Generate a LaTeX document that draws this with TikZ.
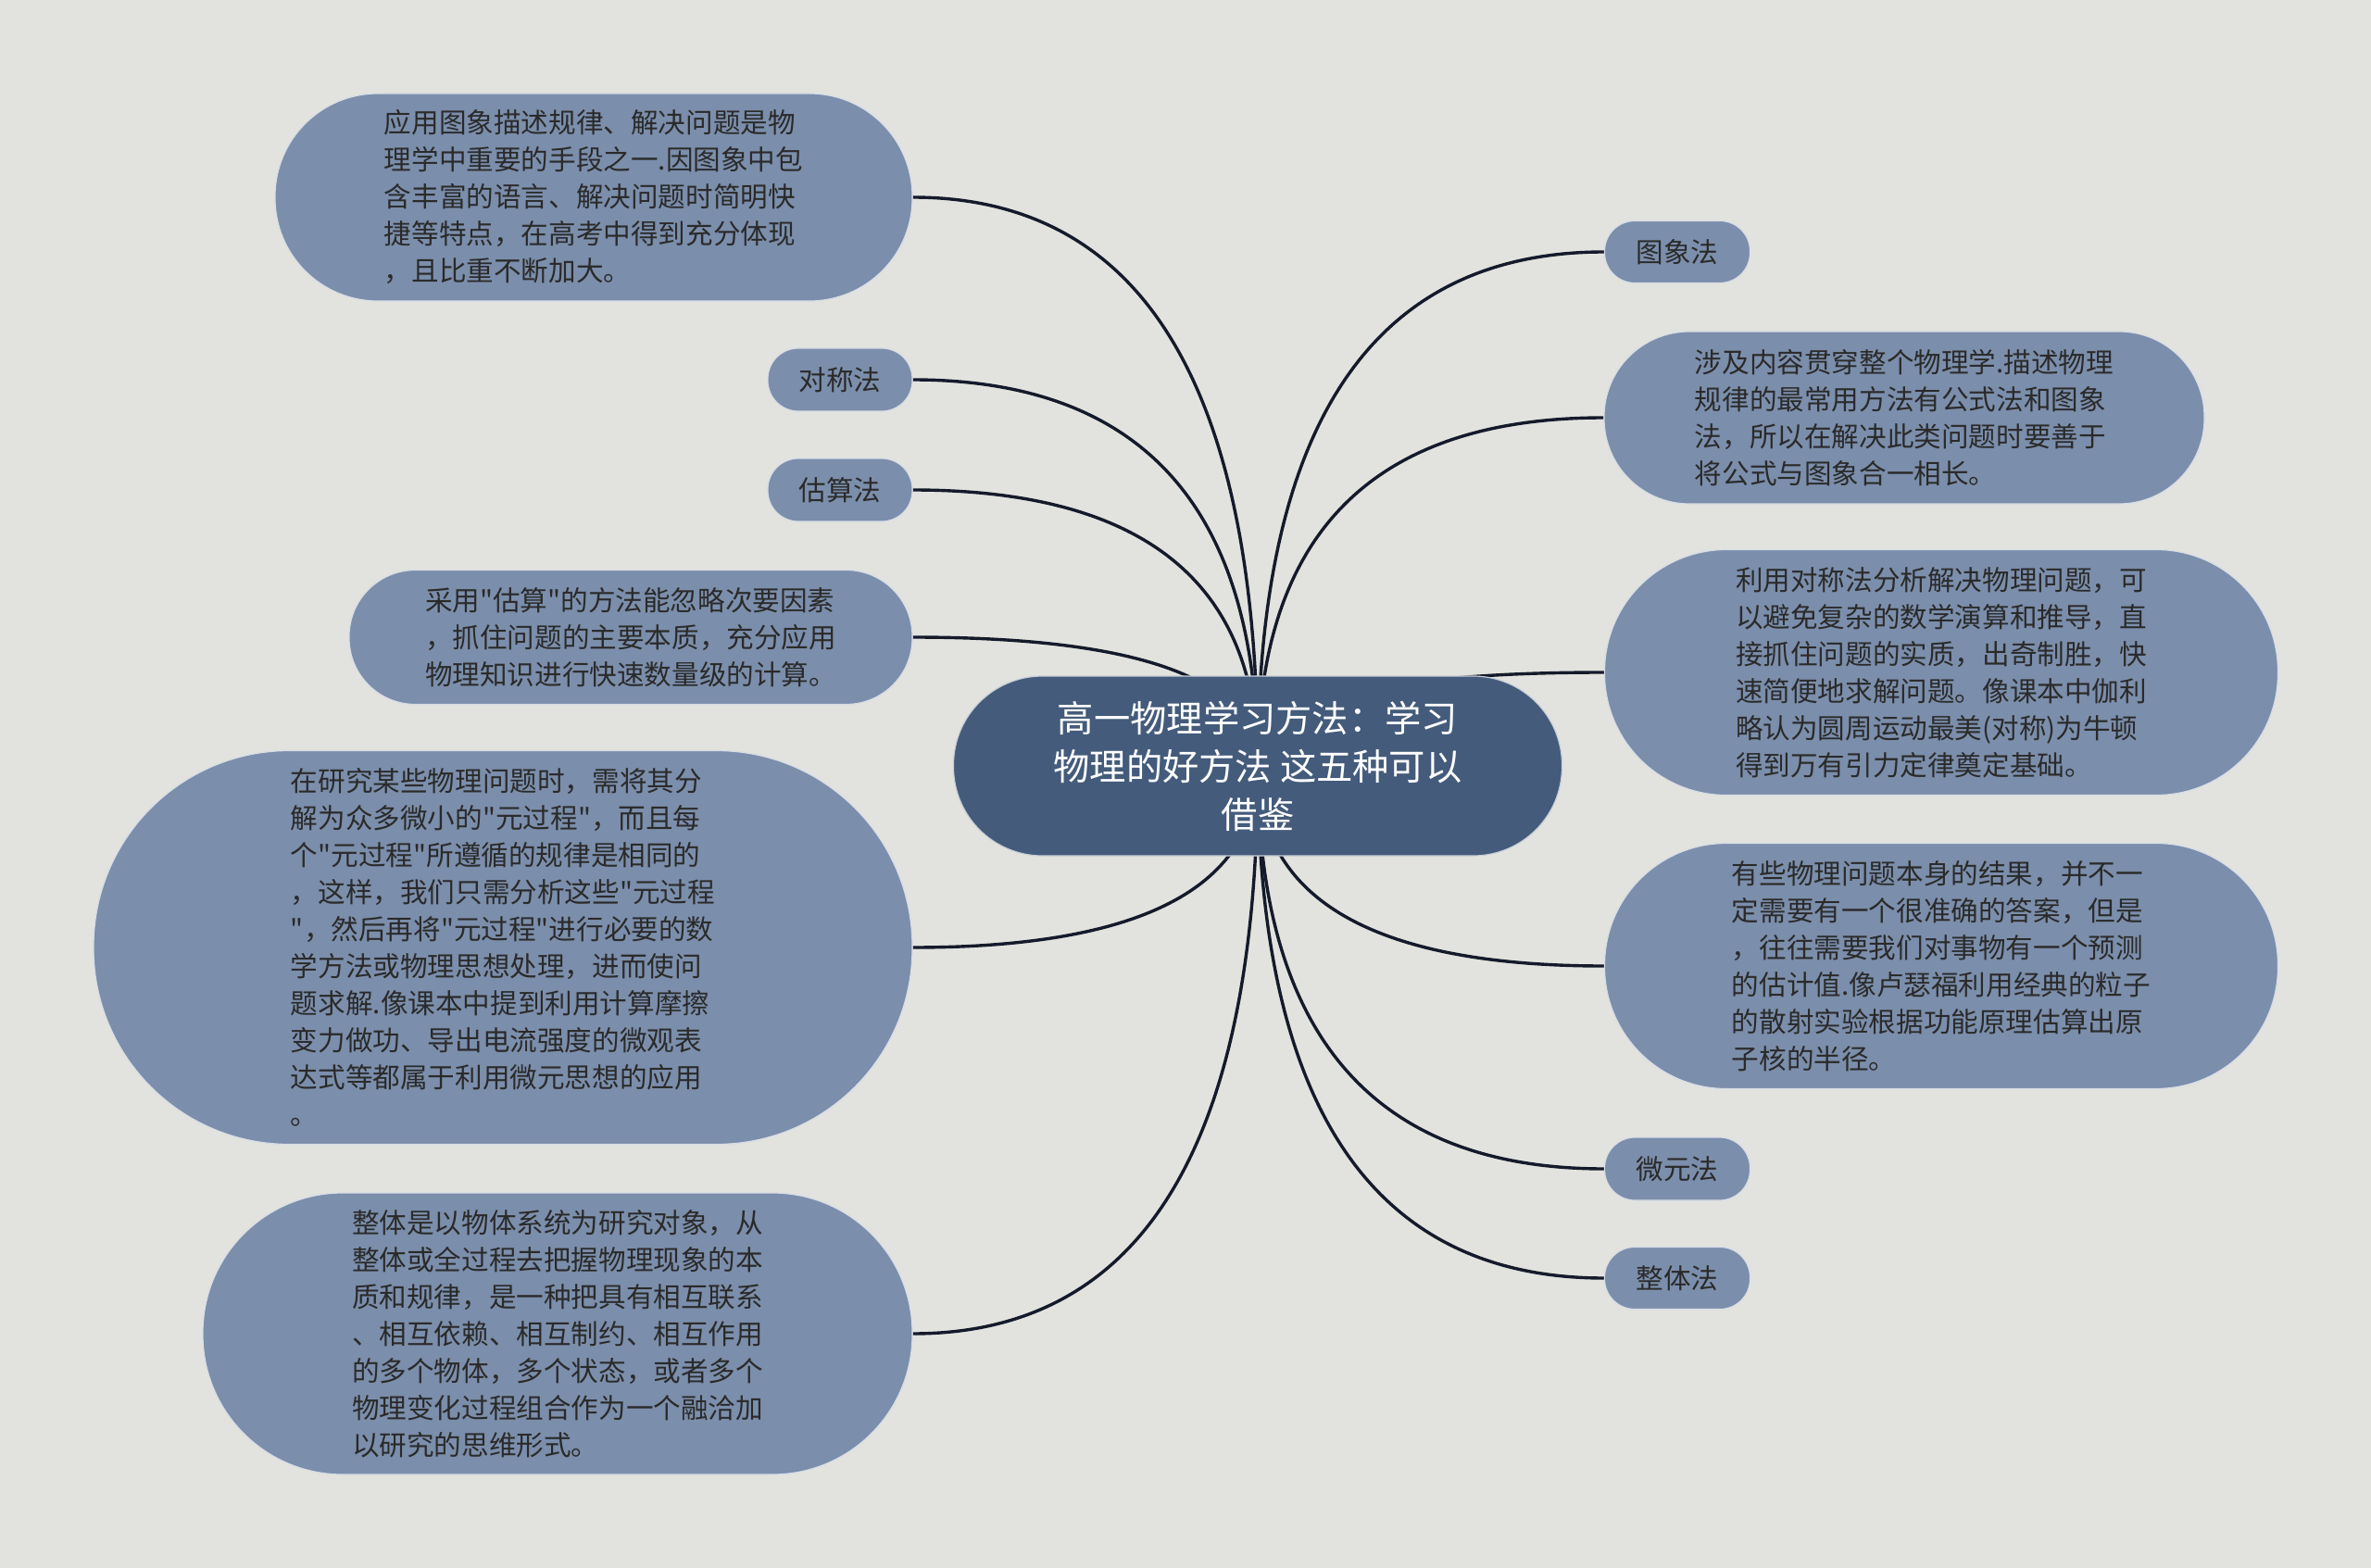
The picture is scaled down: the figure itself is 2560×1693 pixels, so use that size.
\documentclass[tikz,border=0pt]{standalone}
\usepackage{fontspec}
\setmainfont{Noto Sans CJK SC}
\newfontfamily\cjkplain{Noto Sans CJK SC}
\usetikzlibrary{calc}
\definecolor{bgc}{HTML}{E2E3DE}
\definecolor{leafc}{HTML}{7B8EAB}
\definecolor{rootc}{HTML}{445B7B}
\definecolor{linkc}{HTML}{151A2B}
\definecolor{txtc}{HTML}{2A2A2A}
\pgfdeclarelayer{bg}
\pgfdeclarelayer{edges}
\pgfsetlayers{bg,edges,main}
\tikzset{
  leaf/.style={rectangle, fill=leafc, draw=white!70!leafc, line width=1.2pt, inner sep=0pt,
    text=txtc, font=\cjkplain\fontsize{29.6}{40}\selectfont, align=left},
  root/.style={rectangle, fill=rootc, draw=white!70!rootc, line width=1.2pt, inner sep=0pt,
    text=white, font=\cjkplain\fontsize{39.3}{52}\selectfont, align=center},
  pill/.style 2 args={minimum width=#1, minimum height=#2, rounded corners={#2/2-1}},
  link/.style={draw=linkc, line width=3.4pt,
    to path={let \p1=(\tikztostart), \p2=(\tikztotarget) in
      .. controls (\x1,{\y1/3+2*\y2/3}) and ({\x2/3+2*\x1/3},\y2) .. (\tikztotarget)}}
}
\begin{document}
\begin{tikzpicture}[x=1pt,y=-1pt]
\begin{pgfonlayer}{bg}
\fill[bgc] (0,0) rectangle (2560,1693);
\end{pgfonlayer}
\useasboundingbox (0,0) rectangle (2560,1693);

\node[root, pill={657}{194}] (c) at (1358,827) {高一物理学习方法：学习\\物理的好方法 这五种可以\\借鉴};

\node[leaf, pill={688}{224}] (n1) at (641,213) {应用图象描述规律、解决问题是物\\理学中重要的手段之一.因图象中包\\含丰富的语言、解决问题时简明快\\捷等特点，在高考中得到充分体现\\，且比重不断加大。};
\node[leaf, pill={156}{68}] (n2) at (907,410) {对称法};
\node[leaf, pill={156}{68}] (n3) at (907,529) {估算法};
\node[leaf, pill={608}{145}] (n4) at (681,688) {采用"估算"的方法能忽略次要因素\\，抓住问题的主要本质，充分应用\\物理知识进行快速数量级的计算。};
\node[leaf, pill={884}{425}] (n5) at (543,1023) {在研究某些物理问题时，需将其分\\解为众多微小的"元过程"，而且每\\个"元过程"所遵循的规律是相同的\\，这样，我们只需分析这些"元过程\\"，然后再将"元过程"进行必要的数\\学方法或物理思想处理，进而使问\\题求解.像课本中提到利用计算摩擦\\变力做功、导出电流强度的微观表\\达式等都属于利用微元思想的应用\\。};
\node[leaf, pill={766}{304}] (n6) at (602,1440) {整体是以物体系统为研究对象，从\\整体或全过程去把握物理现象的本\\质和规律，是一种把具有相互联系\\、相互依赖、相互制约、相互作用\\的多个物体，多个状态，或者多个\\物理变化过程组合作为一个融洽加\\以研究的思维形式。};

\node[leaf, pill={157}{67}] (n7) at (1811,272) {图象法};
\node[leaf, pill={648}{186}] (n8) at (2056,451) {涉及内容贯穿整个物理学.描述物理\\规律的最常用方法有公式法和图象\\法，所以在解决此类问题时要善于\\将公式与图象合一相长。};
\node[leaf, pill={727}{265}] (n9) at (2096,726) {利用对称法分析解决物理问题，可\\以避免复杂的数学演算和推导，直\\接抓住问题的实质，出奇制胜，快\\速简便地求解问题。像课本中伽利\\略认为圆周运动最美(对称)为牛顿\\得到万有引力定律奠定基础。};
\node[leaf, pill={727}{265}] (n10) at (2096,1043) {有些物理问题本身的结果，并不一\\定需要有一个很准确的答案，但是\\，往往需要我们对事物有一个预测\\的估计值.像卢瑟福利用经典的粒子\\的散射实验根据功能原理估算出原\\子核的半径。};
\node[leaf, pill={157}{68}] (n11) at (1811,1262) {微元法};
\node[leaf, pill={157}{67}] (n12) at (1811,1380) {整体法};

\begin{pgfonlayer}{edges}
\foreach \k in {n1,n2,n3,n4,n5,n6}{
  \draw[link] (c.center) to (\k.east);
}
\foreach \k in {n7,n8,n9,n10,n11,n12}{
  \draw[link] (c.center) to (\k.west);
}
\end{pgfonlayer}
\end{tikzpicture}
\end{document}
